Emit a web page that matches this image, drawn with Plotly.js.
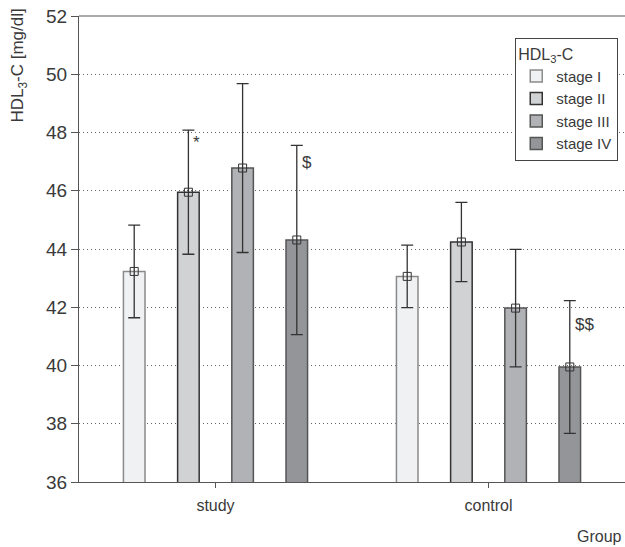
<!DOCTYPE html>
<html>
<head>
<meta charset="utf-8">
<script src="https://cdn.plot.ly/plotly-3.0.1.min.js"></script>
<style>html,body{margin:0;padding:0;background:#fff;}#chart{width:625px;height:547px;}</style>
</head>
<body>
<div id="chart"></div>
<script>
const groups = ['study', 'control'];
const stages = ['stage I', 'stage II', 'stage III', 'stage IV'];
const stageI_mean = [43.23, 43.06];
const stageI_err = [1.59, 1.07];
const stageII_mean = [45.95, 44.24];
const stageII_err = [2.13, 1.36];
const stageIII_mean = [46.78, 41.97];
const stageIII_err = [2.90, 2.02];
const stageIV_mean = [44.31, 39.95];
const stageIV_err = [3.25, 2.28];
const sigLabels = ['*', '$', '$$'];
const sigGroup = [0, 0, 1];
const sigStage = [1, 3, 3];

const means = [stageI_mean, stageII_mean, stageIII_mean, stageIV_mean];
const errs = [stageI_err, stageII_err, stageIII_err, stageIV_err];
const fills = ['#f0f1f2', '#d1d2d4', '#b1b2b5', '#939598'];
const edges = ['#8a8a8a', '#333333', '#555555', '#555555'];
const FONT = "'Liberation Sans', Arial, sans-serif";
const TXT = '#3a3a3a';
const spacing = 0.1985, barW = 0.079;
function xpos(g, s) { return g + (s - 1.5) * spacing; }

const traces = [];
stages.forEach((name, s) => {
  const xs = groups.map((_, g) => xpos(g, s));
  traces.push({
    type: 'bar', name: name, x: xs, y: means[s], width: barW,
    marker: {color: fills[s], line: {color: edges[s], width: 1.5}},
    hoverinfo: 'skip'
  });
});
stages.forEach((name, s) => {
  const xs = groups.map((_, g) => xpos(g, s));
  traces.push({
    type: 'scatter', mode: 'markers', x: xs, y: means[s], showlegend: false,
    marker: {symbol: 'square-open', size: 8, color: '#333', line: {width: 1, color: '#333'}},
    error_y: {type: 'data', array: errs[s], visible: true, color: '#333', thickness: 1.3, width: 6},
    hoverinfo: 'skip'
  });
});

const yshifts = [-1, -6, -12];
const annotations = sigLabels.map((t, i) => ({
  x: xpos(sigGroup[i], sigStage[i]),
  y: means[sigStage[i]][sigGroup[i]] + errs[sigStage[i]][sigGroup[i]],
  xref: 'x', yref: 'y', text: t, showarrow: false,
  xanchor: 'left', yanchor: 'top', xshift: 3, yshift: yshifts[i],
  font: {family: FONT, size: 17, color: TXT}
}));
annotations.push({
  xref: 'paper', yref: 'paper', x: 0.998, y: -0.095, xanchor: 'right', yanchor: 'top',
  text: 'Group', showarrow: false, font: {family: FONT, size: 16, color: TXT}
});
annotations.push({
  xref: 'paper', yref: 'paper', x: -0.11, y: 1.02, xanchor: 'center', yanchor: 'top',
  textangle: -90, text: 'HDL<sub>3</sub>-C [mg/dl]', showarrow: false,
  font: {family: FONT, size: 17, color: TXT}
});

const layout = {
  width: 625, height: 547,
  margin: {l: 79, r: 0, t: 16, b: 65},
  paper_bgcolor: '#fff', plot_bgcolor: '#fff',
  font: {family: FONT, size: 16, color: TXT},
  barmode: 'overlay',
  showlegend: true,
  legend: {
    x: 0.799, y: 0.953, xanchor: 'left', yanchor: 'top',
    bordercolor: '#444', borderwidth: 1, bgcolor: '#fff',
    title: {text: 'HDL<sub>3</sub>-C', font: {family: FONT, size: 16, color: TXT}},
    font: {family: FONT, size: 15, color: TXT},
    tracegroupgap: 0, itemwidth: 30
  },
  xaxis: {
    range: [-0.5, 1.5], tickmode: 'array', tickvals: [0, 1], ticktext: groups,
    showgrid: false, zeroline: false, showline: true, linecolor: '#555', linewidth: 1,
    ticks: 'outside', ticklen: 5, tickcolor: '#555', fixedrange: true,
    ticklabelstandoff: 4,
    tickfont: {family: FONT, size: 16, color: TXT}
  },
  yaxis: {
    range: [36, 52], dtick: 2, tick0: 36,
    showgrid: true, gridcolor: '#666', griddash: '1px,3px', gridwidth: 1,
    zeroline: false, showline: true, linecolor: '#555', linewidth: 1, mirror: false,
    ticks: 'outside', ticklen: 7, tickcolor: '#555',
    tickfont: {family: FONT, size: 19, color: TXT}
  },
  shapes: [{type: 'line', xref: 'paper', yref: 'paper', x0: 0, x1: 1, y0: 1, y1: 1, line: {color: '#555', width: 1}}],
  annotations: annotations
};

Plotly.newPlot('chart', traces, layout, {displayModeBar: false, staticPlot: true});
</script>
</body>
</html>
